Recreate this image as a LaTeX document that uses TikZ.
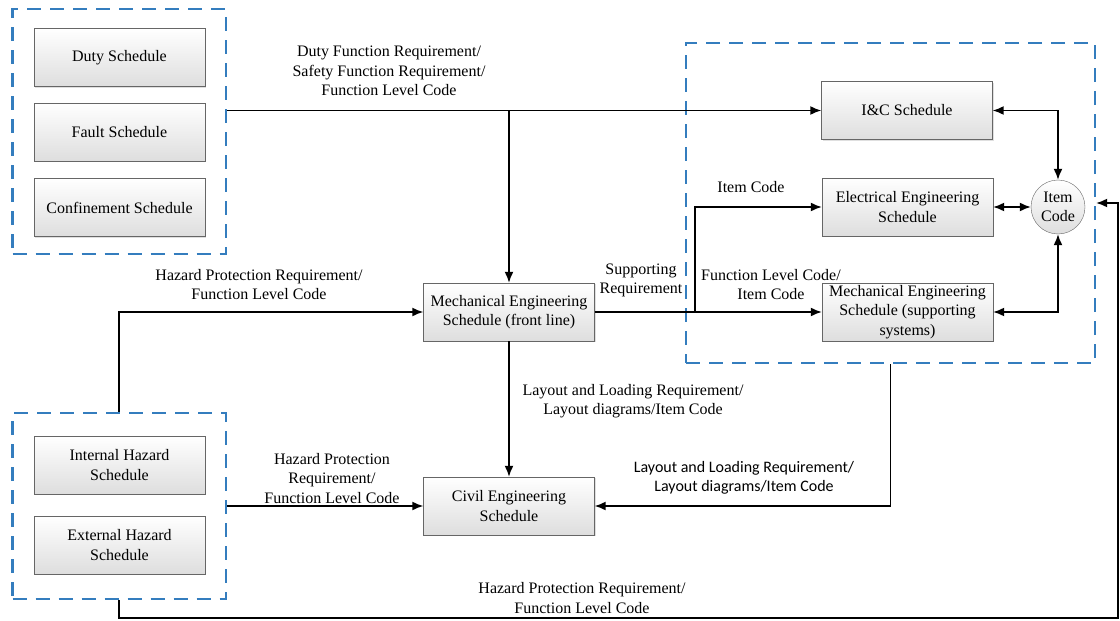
\documentclass[tikz,border=0pt]{standalone}
\usepackage{fontspec}
\setmainfont{Liberation Serif}
\newfontfamily\calib{Carlito}
\usetikzlibrary{arrows.meta,shadows}
\definecolor{grpblue}{RGB}{52,125,190}

\begin{document}
\begin{tikzpicture}[x=1pt, y=-1pt,
	every node/.style = {font=\fontsize{16}{19.5}\selectfont},
	sched/.style = {
		shape=rectangle, draw=black!60, align=center,
		top color=white, bottom color=black!13,
		drop shadow={shadow xshift=1.2pt, shadow yshift=-1.2pt, fill=black!25},
		minimum width=171pt, minimum height=58pt, inner sep=2pt},
	grp/.style = {draw=grpblue, line width=2.4pt, dash pattern=on 14pt off 9pt,
		inner sep=0pt},
	lbl/.style = {align=center, inner sep=0pt},
	flow/.style = {line width=1.6pt, -{Latex[length=11pt,width=9pt]}},
	dflow/.style = {line width=1.6pt, {Latex[length=11pt,width=9pt]}-{Latex[length=11pt,width=9pt]}}]
	\useasboundingbox (0,0) rectangle (1120,621);

	% groups
	\node[grp, minimum width=213.5pt, minimum height=245pt] (safety) at (119.25,131.5) {};
	\node[grp, minimum width=213.5pt, minimum height=186pt] (hazards) at (119.25,506) {};
	\node[grp, minimum width=409pt, minimum height=320pt] (support) at (890.5,203) {};

	% schedules
	\node[sched] (duty) at (119.5,57.5) {Duty Schedule};
	\node[sched] (fault) at (119.5,132) {Fault Schedule};
	\node[sched] (confine) at (119.5,207.5) {Confinement Schedule};
	\node[sched] (inthaz) at (119.5,465) {Internal Hazard\\Schedule};
	\node[sched] (exthaz) at (119.5,545) {External Hazard\\Schedule};
	\node[sched] (mechfront) at (509,312) {Mechanical Engineering\\Schedule (front line)};
	\node[sched] (civil) at (509,506) {Civil Engineering\\Schedule};
	\node[sched] (ic) at (907,110.5) {I\&C Schedule};
	\node[sched] (elec) at (907.5,207) {Electrical Engineering\\Schedule};
	\node[sched] (mechsup) at (907.5,312) {Mechanical Engineering\\Schedule (supporting\\systems)};
	\node[shape=circle, draw=black!60, top color=white, bottom color=black!13,
		minimum size=54pt, inner sep=0pt, align=center] (itemcode) at (1058,207) {Item\\Code};

	% connectors
	\coordinate (split) at (695,312);
	\coordinate (corner) at (1118,618);
	\draw[flow] (safety.east |- ic.west) -- (ic.west);
	\draw[flow] (mechfront.north |- ic.west) -- (mechfront.north);
	\draw[flow] (hazards.north) |- (mechfront.west);
	\draw[flow] (hazards.east) -- (civil.west);
	\draw[flow] (mechfront.south) -- (civil.north);
	\draw[flow] (mechfront.east) -- (mechsup.west);
	\draw[flow] (split) |- (elec.west);
	\draw[flow] (support.south) |- (civil.east);
	\draw[flow] (hazards.south) |- (corner) |- (support.east);
	\draw[dflow] (ic.east) -| (itemcode.north);
	\draw[dflow] (elec.east) -- (itemcode.west);
	\draw[dflow] (mechsup.east) -| (itemcode.south);

	% labels
	\node[lbl] (l1) at (389,71) {Duty Function Requirement/\\Safety Function Requirement/\\Function Level Code};
	\node[lbl] (l2) at (259,284.5) {Hazard Protection Requirement/\\Function Level Code};
	\node[lbl] (l3) at (641,280.5) {Supporting\\Requirement};
	\node[lbl] (l4) at (751,187) {Item Code};
	\node[lbl] (l5) at (771,284.5) {Function Level Code/\\Item Code};
	\node[lbl] (l6) at (633,401) {Layout and Loading Requirement/\\Layout diagrams/Item Code};
	\node[lbl] (l7) at (332,478.5) {Hazard Protection\\Requirement/\\Function Level Code};
	\node[lbl, font=\calib\fontsize{16}{19.5}\selectfont] (l8) at (744,478) {Layout and Loading Requirement/\\Layout diagrams/Item Code};
	\node[lbl] (l9) at (582,598) {Hazard Protection Requirement/\\Function Level Code};
\end{tikzpicture}
\end{document}
